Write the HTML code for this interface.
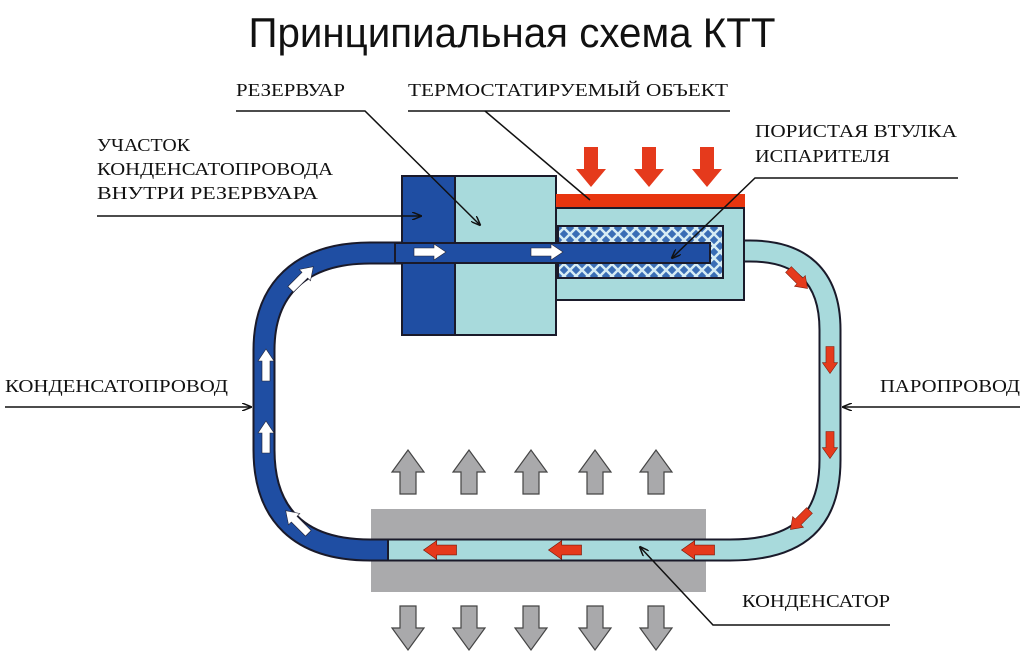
<!DOCTYPE html>
<html><head><meta charset="utf-8"><style>
html,body{margin:0;padding:0;background:#fff}
svg{display:block}
text{font-family:"Liberation Serif",serif;font-size:18px;fill:#111}
</style></head><body>
<svg width="1024" height="657" viewBox="0 0 1024 657" xmlns="http://www.w3.org/2000/svg">
<defs>
<pattern id="wick" width="12" height="12" patternUnits="userSpaceOnUse">
<rect width="12" height="12" fill="#3a6db5"/>
<path d="M0 0 L12 12 M12 0 L0 12" stroke="#d6ecf4" stroke-width="2.5"/>
</pattern>
<marker id="ah" markerWidth="10" markerHeight="8" refX="9" refY="4" orient="auto" markerUnits="userSpaceOnUse">
<path d="M0 0 L10 4 L0 8" fill="none" stroke="#111" stroke-width="1.5"/>
</marker>
<g id="wa"><path d="M-16 -4 L4 -4 L4 -8 L16 0 L4 8 L4 4 L-16 4 Z" fill="#fff" stroke="#223" stroke-width="0.6"/></g>
<g id="ra"><path d="M-15 -4.5 L3 -4.5 L3 -8.5 L15 0 L3 8.5 L3 4.5 L-15 4.5 Z" fill="#e53a1c" stroke="#7a1a0a" stroke-width="0.6"/></g>
<g id="gu"><path d="M-8 22 L8 22 L8 0 L16 0 L0 -22 L-16 0 L-8 0 Z" fill="#a9a9ab" stroke="#444" stroke-width="1.2"/></g>
<g id="rd"><path d="M-7 -20 L7 -20 L7 2 L15 2 L0 20 L-15 2 L-7 2 Z" fill="#e53a1c"/></g>
</defs>

<text x="512" y="47" text-anchor="middle" textLength="527" lengthAdjust="spacingAndGlyphs" style="font-family:'Liberation Sans',sans-serif;font-size:42px;fill:#111">Принципиальная схема КТТ</text>

<rect x="371" y="509" width="335" height="83" fill="#aaaaac"/>

<path d="M402 253 L370 253 C300 253 264 290 264 350 L264 450 C264 515 300 550 370 550 L389 550" fill="none" stroke="#1a1a2a" stroke-width="23"/>
<path d="M402 253 L370 253 C300 253 264 290 264 350 L264 450 C264 515 300 550 370 550 L389 550" fill="none" stroke="#1f4ea3" stroke-width="19"/>
<path d="M388 550 L730 550 C800 550 830 520 830 460 L830 330 C830 275 800 251 750 251 L740 251" fill="none" stroke="#1a1a2a" stroke-width="23"/>
<path d="M388 550 L730 550 C800 550 830 520 830 460 L830 330 C830 275 800 251 750 251 L740 251" fill="none" stroke="#a8dadc" stroke-width="19"/>
<line x1="388" y1="539" x2="388" y2="561" stroke="#1a1a2a" stroke-width="2"/>

<rect x="402" y="176" width="53" height="159" fill="#1f4ea3" stroke="#1a1a2a" stroke-width="2"/>
<rect x="455" y="176" width="101" height="159" fill="#a8dadc" stroke="#1a1a2a" stroke-width="2"/>
<rect x="556" y="194" width="189" height="14" fill="#e8350f"/>
<rect x="556" y="208" width="188" height="92" fill="#a8dadc" stroke="#1a1a2a" stroke-width="2"/>
<rect x="558" y="226" width="165" height="52" fill="url(#wick)" stroke="#1a1a2a" stroke-width="2"/>
<rect x="395" y="243" width="315" height="20" fill="#1f4ea3" stroke="#1a1a2a" stroke-width="2"/>
<rect x="396" y="244" width="6" height="18" fill="#1f4ea3"/>

<use href="#wa" transform="translate(430 252)"/>
<use href="#wa" transform="translate(547 252)"/>
<use href="#wa" transform="translate(266 365) rotate(-90)"/>
<use href="#wa" transform="translate(266 437) rotate(-90)"/>
<use href="#wa" transform="translate(302 278) rotate(-45)"/>
<use href="#wa" transform="translate(297 522) rotate(-135)"/>

<use href="#ra" transform="translate(798 279) rotate(45) scale(0.9)"/>
<use href="#ra" transform="translate(830 360) rotate(90) scale(0.9)"/>
<use href="#ra" transform="translate(830 445) rotate(90) scale(0.9)"/>
<use href="#ra" transform="translate(800 520) rotate(135) scale(0.9)"/>
<use href="#ra" transform="translate(440 550) rotate(180) scale(1.1)"/>
<use href="#ra" transform="translate(565 550) rotate(180) scale(1.1)"/>
<use href="#ra" transform="translate(698 550) rotate(180) scale(1.1)"/>

<use href="#rd" transform="translate(591 167)"/>
<use href="#rd" transform="translate(649 167)"/>
<use href="#rd" transform="translate(707 167)"/>

<use href="#gu" transform="translate(408 472)"/>
<use href="#gu" transform="translate(469 472)"/>
<use href="#gu" transform="translate(531 472)"/>
<use href="#gu" transform="translate(595 472)"/>
<use href="#gu" transform="translate(656 472)"/>
<use href="#gu" transform="translate(408 628) rotate(180)"/>
<use href="#gu" transform="translate(469 628) rotate(180)"/>
<use href="#gu" transform="translate(531 628) rotate(180)"/>
<use href="#gu" transform="translate(595 628) rotate(180)"/>
<use href="#gu" transform="translate(656 628) rotate(180)"/>

<text x="236" y="96" textLength="109" lengthAdjust="spacingAndGlyphs">РЕЗЕРВУАР</text>
<polyline points="236,111 365,111 480,225" fill="none" stroke="#111" stroke-width="1.5" marker-end="url(#ah)"/>
<text x="408" y="96" textLength="320" lengthAdjust="spacingAndGlyphs">ТЕРМОСТАТИРУЕМЫЙ  ОБЪЕКТ</text>
<line x1="408" y1="111" x2="730" y2="111" stroke="#111" stroke-width="1.5"/>
<line x1="485" y1="111" x2="590" y2="200" stroke="#111" stroke-width="1.5"/>
<text x="755" y="137" textLength="202" lengthAdjust="spacingAndGlyphs">ПОРИСТАЯ  ВТУЛКА</text>
<text x="755" y="162" textLength="135" lengthAdjust="spacingAndGlyphs">ИСПАРИТЕЛЯ</text>
<polyline points="958,178 755,178 672,258" fill="none" stroke="#111" stroke-width="1.5" marker-end="url(#ah)"/>
<text x="97" y="151" textLength="93" lengthAdjust="spacingAndGlyphs">УЧАСТОК</text>
<text x="97" y="175" textLength="236" lengthAdjust="spacingAndGlyphs">КОНДЕНСАТОПРОВОДА</text>
<text x="97" y="199" textLength="221" lengthAdjust="spacingAndGlyphs">ВНУТРИ   РЕЗЕРВУАРА</text>
<line x1="97" y1="216" x2="421" y2="216" stroke="#111" stroke-width="1.5" marker-end="url(#ah)"/>
<text x="5" y="392" textLength="223" lengthAdjust="spacingAndGlyphs">КОНДЕНСАТОПРОВОД</text>
<line x1="5" y1="407" x2="251" y2="407" stroke="#111" stroke-width="1.5" marker-end="url(#ah)"/>
<text x="880" y="392" textLength="140" lengthAdjust="spacingAndGlyphs">ПАРОПРОВОД</text>
<line x1="1020" y1="407" x2="843" y2="407" stroke="#111" stroke-width="1.5" marker-end="url(#ah)"/>
<text x="742" y="607" textLength="148" lengthAdjust="spacingAndGlyphs">КОНДЕНСАТОР</text>
<polyline points="890,625 713,625 640,547" fill="none" stroke="#111" stroke-width="1.5" marker-end="url(#ah)"/>
</svg>
</body></html>
